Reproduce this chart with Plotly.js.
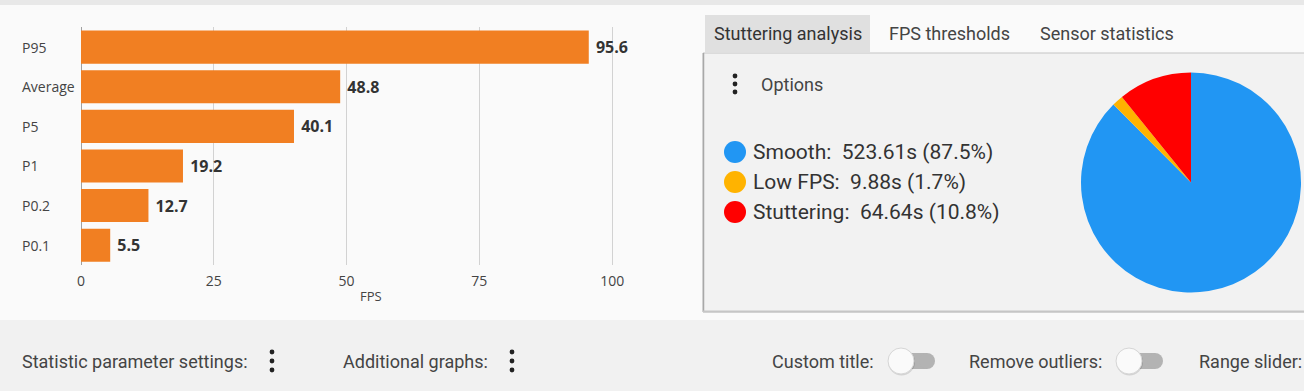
<!DOCTYPE html>
<html>
<head>
<meta charset="utf-8">
<script src="https://cdn.plot.ly/plotly-3.0.1.min.js"></script>
<style>
  html, body { margin: 0; padding: 0; background: #fafafa; overflow: hidden; }
  #chart { width: 1304px; height: 391px; }
</style>
</head>
<body>
<div id="chart"></div>
<script>
// ---- data ----
const statLabels = ['P95', 'Average', 'P5', 'P1', 'P0.2', 'P0.1'];
const statValues = [95.6, 48.8, 40.1, 19.2, 12.7, 5.5];
const fpsTicks = [0, 25, 50, 75, 100];
const fpsAxisTitle = 'FPS';

const stutterLabels = ['Smooth', 'Low FPS', 'Stuttering'];
const stutterSeconds = [523.61, 9.88, 64.64];
const stutterColors = ['#2196F3', '#FFB300', '#FF0000'];

const tabLabels = ['Stuttering analysis', 'FPS thresholds', 'Sensor statistics'];
const optionsLabel = 'Options';
const bottomMenuLabels = ['Statistic parameter settings:', 'Additional graphs:'];
const bottomToggleLabels = ['Custom title:', 'Remove outliers:', 'Range slider:'];

// ---- helpers (pixel -> paper) ----
const W = 1304, H = 391;
const px = x => x / W;
const py = y => 1 - y / H;
const NB = '\u00a0';

const shapes = [];
const annotations = [];

function rect(x0, y0, x1, y1, fill, line) {
  shapes.push({type: 'rect', xref: 'paper', yref: 'paper', layer: 'below',
    x0: px(x0), x1: px(x1), y0: py(y1), y1: py(y0),
    fillcolor: fill, line: line || {width: 0}});
}
function circle(cx, cy, r, fill, line) {
  shapes.push({type: 'circle', xref: 'paper', yref: 'paper', layer: 'below',
    x0: px(cx - r), x1: px(cx + r), y0: py(cy + r), y1: py(cy - r),
    fillcolor: fill, line: line || {width: 0}});
}
function hline(x0, x1, y, color, width) {
  shapes.push({type: 'line', xref: 'paper', yref: 'paper', layer: 'below',
    x0: px(x0), x1: px(x1), y0: py(y), y1: py(y), line: {color: color, width: width}});
}
function vline(x, y0, y1, color, width) {
  shapes.push({type: 'line', xref: 'paper', yref: 'paper', layer: 'below',
    x0: px(x), x1: px(x), y0: py(y0), y1: py(y1), line: {color: color, width: width}});
}
function label(text, x, y, size, color, family) {
  annotations.push({text: text, xref: 'paper', yref: 'paper', x: px(x), y: py(y),
    xanchor: 'left', yanchor: 'middle', showarrow: false, borderpad: 0,
    font: {family: family || 'Roboto', size: size, color: color}});
}
function kebab(cx, cy, gap, r) {
  [-gap, 0, gap].forEach(d => circle(cx, cy + d, r, '#222'));
}
function toggle(cx, cy) {
  rect(cx, cy - 8, cx + 26, cy + 8, '#b3b3b3');
  circle(cx + 26, cy, 8, '#b3b3b3');
  circle(cx + 0.5, cy + 1, 13.5, 'rgba(0,0,0,0.12)');
  circle(cx, cy, 13, '#fafafa', {color: '#d6d6d6', width: 1});
}

// ---- page chrome ----
rect(0, 0, W, 5, '#e8e8e8');
rect(0, 320, W, H, '#f1f1f1');
rect(705, 15, 870, 52, '#e0e0e0');
rect(703, 53, W + 20, 312, '#f2f2f2', {color: '#c4c4c4', width: 1});
vline(703.5, 53, 312, '#a8a8a8', 1.5);
hline(703, W + 20, 311.5, '#c6c6c6', 2);

// tabs
const tabX = [713, 888, 1039];
tabLabels.forEach((t, i) => label(t, tabX[i], 34, 18, i === 0 ? '#333' : '#444'));

// options
kebab(735, 84, 8, 2.4);
label(optionsLabel, 760, 85, 18, '#444');

// stutter legend built from data
const total = stutterSeconds.reduce((a, b) => a + b, 0);
const legendY = [152, 182, 212];
stutterLabels.forEach((lab, i) => {
  circle(735, legendY[i], 11, stutterColors[i]);
  const pct = (stutterSeconds[i] / total * 100).toFixed(1);
  label(lab + ':' + NB + NB + stutterSeconds[i].toFixed(2) + 's' + NB + '(' + pct + '%)',
        752, legendY[i], 21, '#333');
});

// bottom bar
label(bottomMenuLabels[0], 21, 361, 18, '#444');
kebab(272, 361, 9, 2.4);
label(bottomMenuLabels[1], 342, 361, 18, '#444');
kebab(512, 361, 9, 2.4);
label(bottomToggleLabels[0], 771, 361, 18, '#444');
toggle(901, 361);
label(bottomToggleLabels[1], 968, 361, 18, '#444');
toggle(1129, 361);
label(bottomToggleLabels[2], 1198, 361, 18, '#444');

// bar category labels (left-aligned)
statLabels.forEach(l => annotations.push({text: l, xref: 'paper', yref: 'y', x: px(21), y: l,
  xanchor: 'left', yanchor: 'middle', showarrow: false, borderpad: 0,
  font: {family: 'Open Sans', size: 14, color: '#444'}}));

// x axis title
annotations.push({text: fpsAxisTitle, xref: 'paper', yref: 'paper', x: px(371), y: py(296),
  xanchor: 'center', yanchor: 'middle', showarrow: false, borderpad: 0,
  font: {family: 'Open Sans', size: 13, color: '#444'}});

// ---- traces ----
const barTrace = {
  type: 'bar', orientation: 'h',
  x: statValues, y: statLabels,
  marker: {color: '#F17F22', line: {width: 0}},
  text: statValues.map(v => NB + v.toFixed(1)),
  textposition: 'outside', cliponaxis: false,
  textfont: {family: 'Open Sans', size: 16, color: '#333', weight: 'bold'},
  hoverinfo: 'x+y', showlegend: false
};

const pieTrace = {
  type: 'pie', labels: stutterLabels, values: stutterSeconds,
  marker: {colors: stutterColors, line: {width: 0}},
  sort: false, direction: 'clockwise', rotation: 0,
  textinfo: 'none', hoverinfo: 'label+value+percent', showlegend: false,
  domain: {x: [px(1081), px(1301)], y: [py(292.5), py(72.5)]}
};

const layout = {
  width: W, height: H,
  margin: {l: 0, r: 0, t: 0, b: 0},
  paper_bgcolor: '#fafafa', plot_bgcolor: 'rgba(0,0,0,0)',
  font: {family: 'Open Sans', color: '#444'},
  showlegend: false,
  bargap: 0.165,
  xaxis: {
    domain: [px(81), px(661)], range: [0, 109.2],
    tickvals: fpsTicks, ticks: '', ticklabelstandoff: 6,
    showgrid: true, gridcolor: '#d2d2d2', gridwidth: 1,
    zeroline: true, zerolinecolor: '#a0a0a0', zerolinewidth: 1,
    showline: false, fixedrange: true,
    tickfont: {family: 'Open Sans', size: 14, color: '#444'}
  },
  yaxis: {
    domain: [py(265), py(27.3)], type: 'category', autorange: 'reversed',
    showticklabels: false, showgrid: false, zeroline: false, showline: false,
    fixedrange: true
  },
  shapes: shapes,
  annotations: annotations
};

Plotly.newPlot('chart', [barTrace, pieTrace], layout, {displayModeBar: false, staticPlot: true});
</script>
</body>
</html>
